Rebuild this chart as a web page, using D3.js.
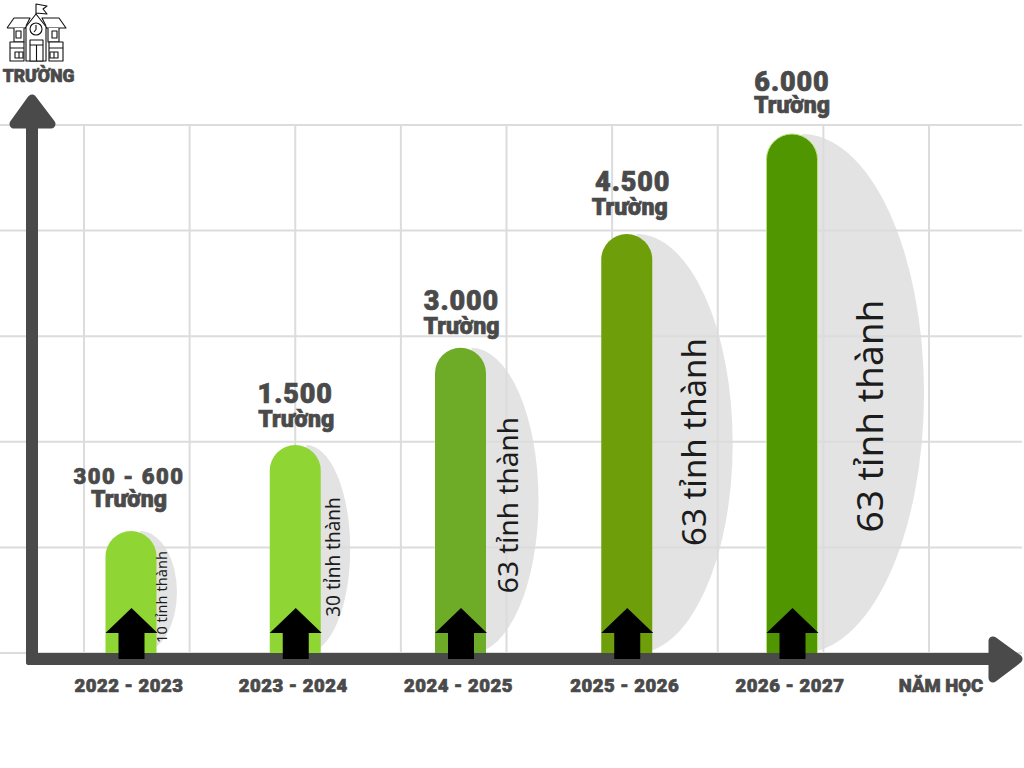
<!DOCTYPE html>
<html lang="vi">
<head>
<meta charset="utf-8">
<script src="https://cdn.jsdelivr.net/npm/d3@7"></script>
<style>
html,body{margin:0;padding:0;background:#fff}
svg{display:block}
.h{font-family:Roboto,sans-serif;font-weight:900;fill:#4a4a4a;stroke:#4a4a4a;stroke-width:.7px}
.r{font-family:"Noto Sans",sans-serif;fill:#1c1c1c}
</style>
</head>
<body>
<div id="chart"></div>
<script>
const categories = ["2022 - 2023","2023 - 2024","2024 - 2025","2025 - 2026","2026 - 2027"];
const schoolLabels = ["300 - 600","1.500","3.000","4.500","6.000"];
const barLevels = [1.155,1.97,2.89,3.968,4.915];
const provinceLabels = ["10 tỉnh thành","30 tỉnh thành","63 tỉnh thành","63 tỉnh thành","63 tỉnh thành"];
const barColors = ["#8fd634","#8fd634","#6eac28","#6e9f0a","#4f9600"];
const gridRows = [0,1,2,3,4,5];
const gridCols = [0,1,2,3,4,5,6,7,8];

/* layout, separate from the data */
const svg = d3.select("#chart").append("svg").attr("width",1024).attr("height",768);
const y = d3.scaleLinear().domain([0,5]).range([653,125]);
const gx = d3.scaleLinear().domain([0,8]).range([84,929]);
const xBase = d3.scalePoint().domain(categories).range([131,792]);
const nudge = [0,-1,-1,0,0];
const x = c => xBase(c) + nudge[categories.indexOf(c)];
const barW = 51, axisC = "#4a4a4a", gridC = "#dcdcdc";
const ellipseRx = [37,44,67,96,122], ellipseDx = [9,11,11,10,10];
const valueDy = [47,42,38,43,43], nameDy = [24,18,14,19,21], labelDx = [-2,0,1,6,0], nameDx=[-2,1,1,3,0];
const valueSize = [22,27,27,27,27], valueSpacing = [1.5,0.9,0.9,0.9,0.9];
const provSize = [14.6,19,28,33,37], provDx = [36,45,57,79,91], provY = [597,557,505,442,416];

// grey half-ellipses (grid shows faintly on top of them)
svg.selectAll(".el").data(categories).join("path").attr("fill","#e3e3e3")
  .attr("d",(c,i)=>{
    const cx=x(c)+ellipseDx[i], t=y(barLevels[i]), b=y(0), ry=(b-t)/2, rx=ellipseRx[i];
    return `M${cx},${t}A${rx},${ry} 0 0 1 ${cx},${b}Z`;
  });

svg.selectAll(".gh").data(gridRows).join("line").attr("x1",0).attr("x2",1022)
  .attr("y1",d=>y(d)).attr("y2",d=>y(d)).attr("stroke",gridC).attr("stroke-width",2);
svg.selectAll(".gv").data(gridCols).join("line").attr("x1",d=>gx(d)).attr("x2",d=>gx(d))
  .attr("y1",125).attr("y2",653).attr("stroke",gridC).attr("stroke-width",2);

// bars
svg.selectAll(".bar").data(categories).join("path")
  .attr("fill",(c,i)=>barColors[i])
  .attr("stroke",(c,i)=>i===4?"#b5e07a":"none").attr("stroke-width",1)
  .attr("d",(c,i)=>{
    const l=x(c)-barW/2, r=x(c)+barW/2, t=y(barLevels[i]), b=y(0)+6, a=barW/2;
    return `M${l},${b}V${t+a}A${a},${a} 0 0 1 ${r},${t+a}V${b}Z`;
  });

// axes
const rounded = (pts,color)=>svg.append("polygon").attr("points",pts.join(" "))
  .attr("fill",color).attr("stroke",color).attr("stroke-width",9).attr("stroke-linejoin","round");
svg.append("rect").attr("x",26).attr("y",118).attr("width",12).attr("height",547).attr("fill",axisC).attr("rx",3);
rounded([[32,99],[14,124],[51,124]],axisC);
svg.append("rect").attr("x",26).attr("y",653).attr("width",970).attr("height",12).attr("fill",axisC).attr("rx",3);
rounded([[993,641],[993,678],[1018,659]],axisC);

// black arrows
svg.selectAll(".up").data(categories).join("path").attr("fill","#000")
  .attr("d",c=>{
    const m=x(c)+0.5;
    return `M${m},608L${m+26},633H${m+13}V659H${m-13}V633H${m-26}Z`;
  });

// labels
svg.selectAll(".val").data(schoolLabels).join("text").attr("class","h")
  .attr("text-anchor","middle").attr("font-size",(d,i)=>valueSize[i]).attr("letter-spacing",(d,i)=>valueSpacing[i])
  .attr("x",(d,i)=>x(categories[i])+labelDx[i]).attr("y",(d,i)=>y(barLevels[i])-valueDy[i]).text(d=>d);
svg.selectAll(".nm").data(categories).join("text").attr("class","h")
  .attr("text-anchor","middle").attr("font-size",23)
  .attr("x",(d,i)=>x(d)+nameDx[i]).attr("y",(d,i)=>y(barLevels[i])-nameDy[i]).text("Trường");
svg.selectAll(".tick").data(categories).join("text").attr("class","h")
  .attr("text-anchor","middle").attr("font-size",18.5).attr("letter-spacing",0.5)
  .attr("x",d=>x(d)-2).attr("y",692).text(d=>d);
svg.append("text").attr("class","h").attr("text-anchor","middle").attr("font-size",18.5)
  .attr("x",941).attr("y",692).text("NĂM HỌC");
svg.append("text").attr("class","h").attr("text-anchor","middle").attr("font-size",17.5)
  .attr("x",38.5).attr("y",82).text("TRƯỜNG");

// rotated province labels
svg.selectAll(".prov").data(provinceLabels).join("text").attr("class","r")
  .attr("text-anchor","middle").attr("font-size",(d,i)=>provSize[i])
  .attr("transform",(d,i)=>`translate(${x(categories[i])+provDx[i]},${provY[i]}) rotate(-90)`).text(d=>d);

// school icon
const ic = svg.append("g").attr("fill","#fff").attr("stroke","#111").attr("stroke-width",1.1).attr("stroke-linejoin","round");
[
 "M36,14V4L47,6L43,9L47,14L36,13",
 "M7,28L14,18H30L26,26M46,26L42,18H59L66,28H46M26,28H7",
 "M14,28V42H24V28M48,28V42H59V28",
 "M10,42H24V61H10ZM49,42H63V61H49Z",
 "M10,48H24M49,48H63",
 "M25,28L36,14L47,28M26,27V61H46V27",
 "M30,40H43V61H30ZM30,45H43M36.5,45V61",
 "M15,52H19V58H15ZM19,52H23V58H19ZM50,52H54V58H50ZM54,52H58V58H54Z",
 "M16,31H21V38H16ZM52,31H57V38H52Z"
].forEach(d=>ic.append("path").attr("d",d));
ic.append("circle").attr("cx",36).attr("cy",29).attr("r",6);
ic.append("path").attr("d","M36,25V29.5L34,32").attr("fill","none");
</script>
</body>
</html>
